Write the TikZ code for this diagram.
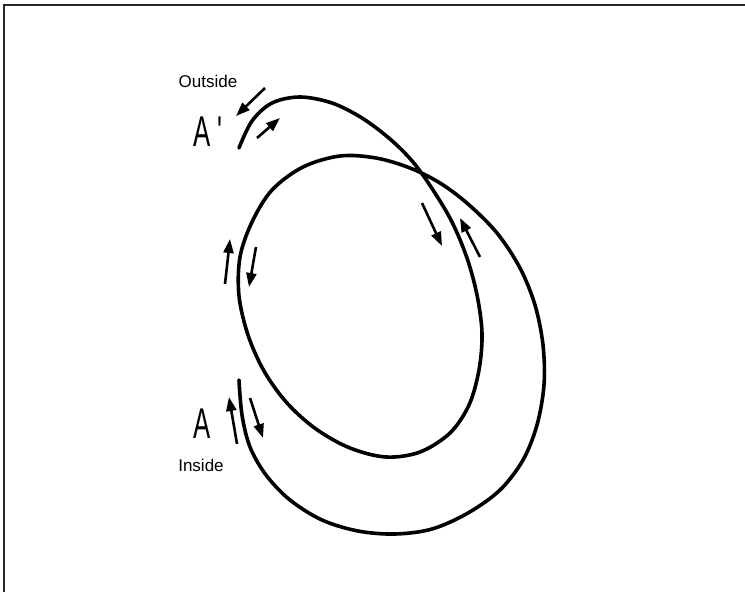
\documentclass[tikz,border=0pt]{standalone}
\usepackage{fontspec}
\setmainfont{Liberation Sans}
\usetikzlibrary{arrows.meta}
\begin{document}
\begin{tikzpicture}[x=1pt,y=-1pt,
  tape/.style={line width=3.6pt, line cap=round, line join=round},
  flow/.style={line width=2.6pt, -{Triangle[length=14pt,width=10pt]}},
  frame/.style={line width=1.6pt, draw=black!85},
  lbl/.style={font=\fontsize{17}{20}\selectfont, inner sep=0pt},
  letter/.style={font=\fontsize{43}{45}\selectfont, inner sep=0pt}]
\useasboundingbox (0,0) rectangle (745,592);
% frame
\draw[frame] (4,592) -- (4,5) -- (745,5);
% the tape
\draw[tape] plot[smooth, tension=0.55] coordinates {
  (239,148) (252,121) (272,103) (300,97) (332,103) (362,118) (390,139)
  (413,162) (433,190) (452,222) (467,258) (477,295) (482,333) (479,370)
  (469,405) (450,433) (420,452) (386,457) (350,448) (316,429) (287,403)
  (264,371) (248,335) (239,296) (240,257) (252,222) (272,190) (303,167)
  (340,156) (376,158) (410,168) (440,183) (468,204) (497,233) (520,268)
  (535,305) (543,345) (544,385) (537,425) (523,460) (500,490) (468,513)
  (432,529) (395,534) (358,531) (322,520) (290,500) (266,475) (250,447)
  (242,415) (239,380)};
% labels
\node[lbl] (outside) at (208,81) {Outside};
\node[lbl] (inside) at (201,465) {Inside};
\node[letter, anchor=south west] (Ap) at (193,147) {\scalebox{0.6}[1]{A \textquotesingle}};
\node[letter, anchor=south west] (A) at (193,439) {\scalebox{0.6}[1]{A}};
% arrow end points
\coordinate (o1) at (265,88);  \coordinate (o2) at (236,116);
\coordinate (p1) at (257,138); \coordinate (p2) at (280,118);
\coordinate (c1) at (422,203); \coordinate (c2) at (442,246);
\coordinate (d1) at (480,257); \coordinate (d2) at (460,218);
\coordinate (l1) at (225,284); \coordinate (l2) at (230,239);
\coordinate (m1) at (256,247); \coordinate (m2) at (249,287);
\coordinate (a1) at (237,444); \coordinate (a2) at (229,397);
\coordinate (b1) at (250,398); \coordinate (b2) at (263,438);
\draw[flow] (o1) -- (o2);
\draw[flow] (p1) -- (p2);
\draw[flow] (c1) -- (c2);
\draw[flow] (d1) -- (d2);
\draw[flow] (l1) -- (l2);
\draw[flow] (m1) -- (m2);
\draw[flow] (a1) -- (a2);
\draw[flow] (b1) -- (b2);
\end{tikzpicture}
\end{document}
